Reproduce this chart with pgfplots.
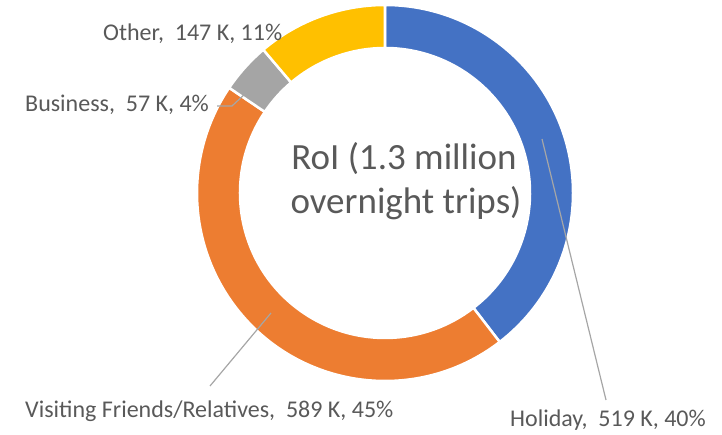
\documentclass[border=0pt]{standalone}
\usepackage{pgfplots}
\pgfplotsset{compat=1.18}
\usepackage{pgfplotstable}
\usepackage{fontspec}
\setmainfont{Carlito}
\definecolor{cHol}{HTML}{4472C4}
\definecolor{cVFR}{HTML}{ED7D31}
\definecolor{cBus}{HTML}{A5A5A5}
\definecolor{cOth}{HTML}{FFC000}
\definecolor{txt}{HTML}{595959}
\definecolor{lead}{HTML}{A6A6A6}
\pgfplotstableread{
name value
Holiday 519
VFR 589
Business 57
Other 147
}\tripdata
\pgfplotstablegetelem{0}{value}\of\tripdata \let\vA\pgfplotsretval
\pgfplotstablegetelem{1}{value}\of\tripdata \let\vB\pgfplotsretval
\pgfplotstablegetelem{2}{value}\of\tripdata \let\vC\pgfplotsretval
\pgfplotstablegetelem{3}{value}\of\tripdata \let\vD\pgfplotsretval
\pgfmathsetmacro\total{\vA+\vB+\vC+\vD}
\pgfmathsetmacro\aA{90}
\pgfmathsetmacro\aB{\aA-360*(\vA/\total)}
\pgfmathsetmacro\aC{\aB-360*(\vB/\total)}
\pgfmathsetmacro\aD{\aC-360*(\vC/\total)}
\pgfmathsetmacro\aE{\aD-360*(\vD/\total)}
\newcommand\slice[3]{%
  \filldraw[fill=#3,draw=white,line width=2.5pt,line join=miter]
    (axis cs:385,193) ++(#1:188pt) arc[start angle=#1,end angle=#2,radius=188pt]
    -- ([shift={(#2:145pt)}]axis cs:385,193)
    arc[start angle=#2,end angle=#1,radius=145pt] -- cycle;}
\begin{document}
\begin{tikzpicture}
\begin{axis}[
  width=722pt, height=435pt, scale only axis,
  xmin=0, xmax=722, ymin=0, ymax=435, y dir=reverse,
  hide axis, clip=false]
\path (axis cs:0,0) rectangle (axis cs:722,435);
\slice{\aA}{\aB}{cHol}
\slice{\aB}{\aC}{cVFR}
\slice{\aC}{\aD}{cBus}
\slice{\aD}{\aE}{cOth}
% leader lines
\draw[lead,line width=1.2pt] (axis cs:217,106) -- (axis cs:232,106) -- (axis cs:247,92);
\draw[lead,line width=1.2pt] (axis cs:210,386) -- (axis cs:271,313);
\draw[lead,line width=1.2pt] (axis cs:542,139) -- (axis cs:606,400);
% labels
\begin{scope}[every node/.style={text=txt,inner sep=0pt,font=\fontsize{24}{29}\selectfont}]
\node[anchor=base west] at (axis cs:103,41) {Other,\ \ 147 K, 11\%};
\node[anchor=base west] at (axis cs:25,112) {Business,\ \ 57 K, 4\%};
\node[anchor=base west] at (axis cs:25,417) {Visiting Friends/Relatives,\ \ 589 K, 45\%};
\node[anchor=base west] at (axis cs:510,426) {Holiday,\ \ 519 K, 40\%};
\end{scope}
\node[text=txt,inner sep=0pt,anchor=base,font=\fontsize{37}{44}\selectfont] at (axis cs:404,170) {RoI (1.3 million};
\node[text=txt,inner sep=0pt,anchor=base,font=\fontsize{37}{44}\selectfont] at (axis cs:406,214) {overnight trips)};
\end{axis}
\end{tikzpicture}
\end{document}
